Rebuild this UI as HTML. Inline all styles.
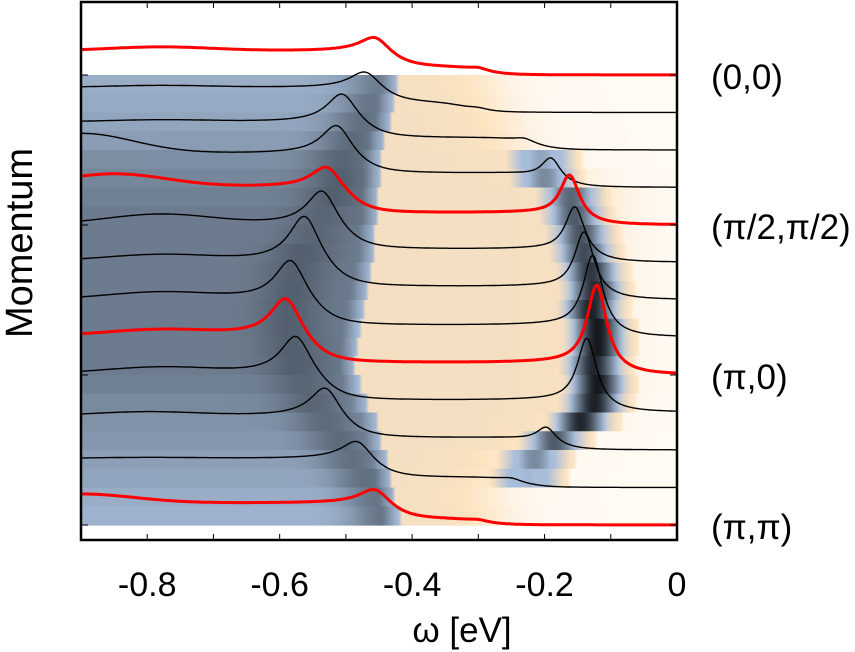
<!DOCTYPE html>
<html><head><meta charset="utf-8"><style>
html,body{margin:0;padding:0;background:#fff;}
svg{display:block;font-family:"Liberation Sans",Arial,sans-serif;}
</style></head><body>
<svg id="chart" width="855" height="652" viewBox="0 0 855 652" xmlns="http://www.w3.org/2000/svg">
<defs id="defs"></defs>
<g id="heat"></g>
<g id="curves"></g>
<g id="axes"></g>
<text x="711" y="89" font-size="35">(0,0)</text>
<text x="711" y="239" font-size="35">(π/2,π/2)</text>
<text x="711" y="389" font-size="35">(π,0)</text>
<text x="711" y="539" font-size="35">(π,π)</text>
<text transform="translate(32,243) rotate(-90)" text-anchor="middle" font-size="38">Momentum</text>
<text x="462" y="642" text-anchor="middle" font-size="35">ω [eV]</text>
</svg>
<script>
// ---- curve data (13 momenta) ----
const plateauH = [24,25,28,34,38,38,39,38,39,39,34,29,22];
const humpAmp  = [4,2,2,20,13,10,6,7,6,6,4,1,9];
const humpPos  = [-0.78,-0.78,-0.78,-0.9,-0.85,-0.78,-0.78,-0.78,-0.78,-0.78,-0.8,-0.8,-0.9];
const edgeW    = [-0.44,-0.45,-0.48,-0.49,-0.5,-0.51,-0.53,-0.55,-0.56,-0.54,-0.51,-0.465,-0.44];
const midH     = [8,10,12,14,12,13,13,12,12,12,12,10,6];
const midEnd   = [-0.3,-0.32,-0.22,-0.2,-0.17,-0.16,-0.15,-0.14,-0.13,-0.15,-0.2,-0.24,-0.3];
const lowPos   = [-0.455,-0.47,-0.505,-0.513,-0.528,-0.535,-0.562,-0.583,-0.59,-0.575,-0.53,-0.482,-0.455];
const lowAmp   = [18,19,31,32,24,38,48,42,41,40,33,22,18];
const hiPos    = [-0.3,-0.3,-0.23,-0.19,-0.162,-0.154,-0.14,-0.127,-0.121,-0.136,-0.197,-0.25,-0.3];
const hiAmp    = [3,2,4,24,45,50,63,78,85,70,17,3,2];
const isRed    = [1,0,0,0,1,0,0,0,1,0,0,0,1];
// ---- heatmap data (24 rows) ----
const hmLeft   = [0.42,0.43,0.45,0.48,0.53,0.56,0.58,0.6,0.6,0.6,0.6,0.6,0.6,0.6,0.6,0.6,0.58,0.55,0.52,0.5,0.47,0.45,0.42,0.4];
const hmDarkPos= [-0.445,-0.46,-0.475,-0.49,-0.505,-0.51,-0.52,-0.535,-0.55,-0.565,-0.575,-0.58,-0.585,-0.585,-0.58,-0.575,-0.565,-0.55,-0.53,-0.51,-0.49,-0.47,-0.455,-0.445];
const hmDarkV  = [0.6,0.62,0.64,0.66,0.68,0.7,0.7,0.68,0.68,0.7,0.7,0.7,0.7,0.7,0.7,0.7,0.68,0.68,0.66,0.66,0.64,0.64,0.62,0.62];
const hmEdge   = [-0.422,-0.427,-0.43,-0.44,-0.447,-0.447,-0.45,-0.45,-0.456,-0.456,-0.462,-0.467,-0.473,-0.48,-0.482,-0.485,-0.48,-0.467,-0.452,-0.445,-0.436,-0.43,-0.425,-0.42];
const hmBeigeEnd=[-0.28,-0.27,-0.25,-0.24,-0.2,-0.15,-0.1,-0.1,-0.1,-0.1,-0.1,-0.1,-0.1,-0.1,-0.1,-0.1,-0.1,-0.12,-0.15,-0.2,-0.25,-0.27,-0.28,-0.27];
const hmHiPos  = [-0.3,-0.3,-0.3,-0.3,-0.205,-0.2,-0.16,-0.155,-0.145,-0.14,-0.13,-0.125,-0.13,-0.12,-0.12,-0.125,-0.12,-0.125,-0.145,-0.185,-0.215,-0.225,-0.3,-0.3];
const hmHiV    = [0,0,0,0,0.45,0.55,0.68,0.72,0.75,0.78,0.85,0.88,0.92,0.95,0.95,0.9,0.95,0.92,0.9,0.72,0.55,0.38,0,0];
const xTicks   = [-0.8,-0.6,-0.4,-0.2,0];
const xTickLabels = ['-0.8','-0.6','-0.4','-0.2','0'];

const NS='http://www.w3.org/2000/svg';
const X0=81,X1=677,Y0=2,Y1=540,HT=75,HB=525;
const xs=w=>X1+(w/0.9)*(X1-X0);
const nC=plateauH.length, nR=hmLeft.length;
const baseY=k=>HT+k*(HB-HT)/(nC-1);
const S=(w,e,s)=>1/(1+Math.exp((w-e)/s));
const lor=(w,p,a,g)=>a*g*g/((w-p)*(w-p)+g*g);
const gau=(w,p,a,s)=>a*Math.exp(-((w-p)*(w-p))/(2*s*s));
function spec(k,w){
  const se=S(w,edgeW[k],0.018);
  return plateauH[k]*se+gau(w,humpPos[k],humpAmp[k],0.08)
    +midH[k]*(1-se)*S(w,midEnd[k],0.02)
    +lor(w,lowPos[k],lowAmp[k],0.028)+lor(w,hiPos[k],hiAmp[k],0.018);
}
// colormap
const cmV=[0,0.15,0.36,0.6,0.8,1];
const cmC=[[255,253,250],[253,227,192],[168,189,218],[108,124,142],[58,68,80],[8,8,10]];
function cmap(v){v=Math.max(0,Math.min(1,v));
  for(let i=1;i<cmV.length;i++){if(v<=cmV[i]){const t=(v-cmV[i-1])/(cmV[i]-cmV[i-1]);const a=cmC[i-1],b=cmC[i];
    return 'rgb('+a.map((c,j)=>Math.round(c+(b[j]-c)*t)).join(',')+')';}}
  return 'rgb(8,8,10)';}
function hmVal(r,w){
  let v;
  if(w<hmEdge[r]){
    v=hmLeft[r]+(hmDarkV[r]-hmLeft[r])*Math.exp(-((w-hmDarkPos[r])**2)/(2*0.035*0.035));
    const t=(w-(hmEdge[r]-0.025))/0.025;
    if(t>0) v=v+(0.36-v)*t;
  } else {
    v=0.15*S(w,hmBeigeEnd[r],0.025)+0.02;
  }
  if(hmHiV[r]>0){v=Math.max(v,gau(w,hmHiPos[r],hmHiV[r],0.026));
    const g=gau(w,hmHiPos[r],1,0.036); if(g>0.2&&v<0.36) v=Math.max(v,0.36*Math.min(1,g*1.4)); }
  return v;
}
const defs=document.getElementById('defs'), heat=document.getElementById('heat');
const rowH=(HB-HT)/nR;
for(let r=0;r<nR;r++){
  const lg=document.createElementNS(NS,'linearGradient');
  lg.setAttribute('id','g'+r);lg.setAttribute('gradientUnits','userSpaceOnUse');
  lg.setAttribute('x1',X0);lg.setAttribute('x2',X1);lg.setAttribute('y1',0);lg.setAttribute('y2',0);
  for(let i=0;i<=180;i++){const w=-0.9+i*0.005;const st=document.createElementNS(NS,'stop');
    st.setAttribute('offset',(i/180).toFixed(4));st.setAttribute('stop-color',cmap(hmVal(r,w)));lg.appendChild(st);}
  defs.appendChild(lg);
  const rc=document.createElementNS(NS,'rect');
  
  
  rc.setAttribute('x',X0);rc.setAttribute('y',(HT+r*rowH).toFixed(2));rc.setAttribute('width',X1-X0);rc.setAttribute('height',(rowH+0.6).toFixed(2));
  rc.setAttribute('fill','url(#g'+r+')');heat.appendChild(rc);
}
const cg=document.getElementById('curves');
for(let k=0;k<nC;k++){
  let d='';
  for(let i=0;i<=450;i++){const w=-0.9+i*0.002;const y=baseY(k)-spec(k,w);d+=(i?'L':'M')+xs(w).toFixed(1)+','+y.toFixed(1);}
  const p=document.createElementNS(NS,'path');
  
  
  p.setAttribute('d',d);p.setAttribute('fill','none');
  p.setAttribute('stroke',isRed[k]?'#ff0000':'#000');p.setAttribute('stroke-width',isRed[k]?3:1.4);
  cg.appendChild(p);
}
const ax=document.getElementById('axes');
function line(x1,y1,x2,y2,sw){const l=document.createElementNS(NS,'line');
  
  
  l.setAttribute('x1',x1);l.setAttribute('y1',y1);l.setAttribute('x2',x2);l.setAttribute('y2',y2);l.setAttribute('stroke','#000');l.setAttribute('stroke-width',sw);ax.appendChild(l);}
for(let i=1;i<9;i++){const x=xs(-0.9+i*0.1);line(x,Y1,x,Y1-6,1);line(x,Y0,x,Y0+6,1);}
for(const k of [0,4,8,12]){line(X0,baseY(k),X0+7,baseY(k),1);line(X1,baseY(k),X1-7,baseY(k),1);}
const fr=document.createElementNS(NS,'rect');


fr.setAttribute('x',X0);fr.setAttribute('y',Y0);fr.setAttribute('width',X1-X0);fr.setAttribute('height',Y1-Y0);
fr.setAttribute('fill','none');fr.setAttribute('stroke','#000');fr.setAttribute('stroke-width',2.5);ax.appendChild(fr);
xTicks.forEach((v,i)=>{const t=document.createElementNS(NS,'text');
  
  
  t.setAttribute('x',xs(v));t.setAttribute('y',596);t.setAttribute('text-anchor','middle');t.setAttribute('font-size','34');
  t.textContent=xTickLabels[i];ax.appendChild(t);});
</script>
</body></html>
